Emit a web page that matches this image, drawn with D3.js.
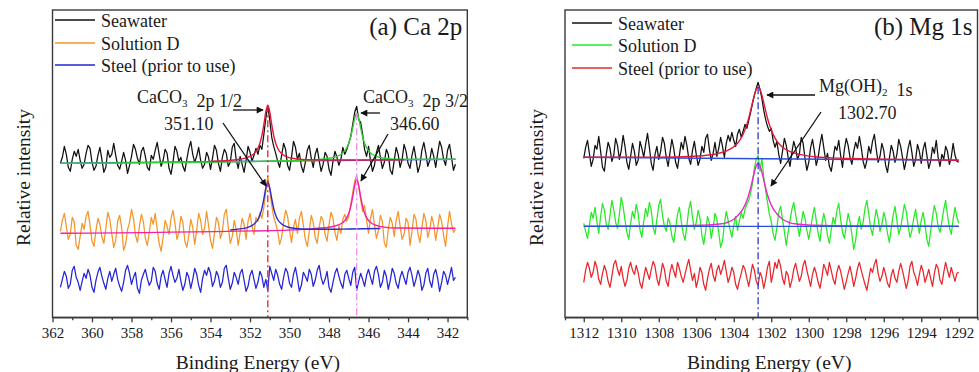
<!DOCTYPE html>
<html>
<head>
<meta charset="utf-8">
<script src="https://cdn.jsdelivr.net/npm/d3@7"></script>
<style>
  html, body { margin: 0; padding: 0; background: #fff; }
  svg { display: block; }
  svg text { font-family: "Liberation Serif", "Times New Roman", serif; }
</style>
</head>
<body>
<svg id="chart" width="979" height="372"></svg>
<script>
// ---------- Ca 2p spectra (binding energy 361.6 -> 341.6 eV, 0.1 eV step) ----------
const caStart = 361.6;
const caStep = 0.1;
const caTicks = [362, 360, 358, 356, 354, 352, 350, 348, 346, 344, 342];
const caMinorTicks = [361, 359, 357, 355, 353, 351, 349, 347, 345, 343, 341];

const caSeawater = [
  154,160,171,163,150,146,158,166,161,168,
  157,149,153,164,172,169,155,147,151,162,
  170,158,145,150,167,160,163,174,162,152,
  148,156,165,157,144,152,161,173,168,159,
  153,166,170,161,150,147,162,158,167,175,
  163,151,157,168,164,149,143,155,171,166,
  156,160,151,146,158,169,176,163,155,161,
  170,157,149,153,165,160,148,159,172,167,
  154,146,160,168,164,151,155,170,174,158,
  149,161,153,145,157,171,165,156,162,169,
  163,172,168,183,199,212,197,180,171,164,
  156,150,162,174,168,152,147,160,176,170,
  158,164,151,145,155,167,172,159,150,163,
  169,157,146,153,165,161,148,142,156,166,
  160,152,158,170,163,168,174,181,193,205,
  211,198,195,183,168,161,171,157,146,152,
  165,172,160,149,155,168,163,147,143,157,
  170,163,150,158,173,166,154,149,162,171,
  159,145,152,167,175,164,151,157,169,161,
  150,164,176,170,158,152,167,173,160,147,
  153
];

const caSolutionD = [
  86,97,104,91,78,83,100,95,72,68,
  81,94,88,101,106,92,76,71,87,99,
  93,80,74,89,105,98,84,70,77,96,
  102,90,67,73,88,95,108,99,82,75,
  91,103,96,79,72,85,100,93,104,88,
  74,66,80,97,91,83,99,107,94,78,
  85,101,95,76,70,82,98,90,73,87,
  104,97,83,89,106,92,77,69,84,100,
  95,79,86,103,108,90,74,81,97,88,
  72,85,99,93,78,96,104,91,83,100,
  96,105,99,110,126,141,127,112,100,94,
  86,73,80,95,107,101,87,75,90,98,
  84,99,106,92,78,71,86,102,95,80,
  74,90,101,97,83,76,93,105,99,85,
  77,92,84,98,103,96,101,113,125,136,
  142,131,118,106,112,97,84,99,108,92,
  79,87,102,96,74,70,88,100,94,81,
  97,106,91,78,83,99,95,72,86,103,
  98,84,75,90,104,97,80,88,101,93,
  77,89,103,96,82,71,91,106,94,85,
  88
];

const caSteel = [
  30,38,46,41,29,33,47,51,40,35,
  27,36,44,39,48,42,30,25,37,45,
  50,41,34,28,39,46,36,43,49,38,
  31,26,35,47,52,44,33,40,45,29,
  24,37,43,48,39,32,36,50,46,34,
  28,41,47,38,30,44,51,42,35,39,
  48,36,27,33,45,40,29,38,49,43,
  32,25,39,47,42,50,44,31,36,46,
  41,30,35,49,52,39,28,34,45,40,
  33,44,48,37,26,31,42,47,38,29,
  35,46,41,30,38,27,51,44,37,48,
  42,33,28,40,49,45,34,30,43,50,
  39,26,32,45,41,36,48,43,31,37,
  47,52,40,33,38,46,30,25,35,44,
  49,41,34,29,43,47,39,32,45,50,
  27,36,44,38,31,42,48,40,33,46,
  51,43,30,35,47,41,28,37,49,44,
  34,29,40,46,39,33,45,50,42,31,
  38,47,41,27,32,44,49,36,30,43,
  48,39,26,35,46,42,33,41,50,37,
  40
];

// fitted components, [binding energy, intensity]
const caSeawaterBackground = [[361.6,154],[341.6,158]];
const caSeawaterFit12 = [
  [354.0,156],[353.1,156.8],[352.5,158],[352.0,161],[351.8,163.5],[351.6,169],
  [351.5,174],[351.4,181.6],[351.3,192.6],[351.2,205.5],[351.1,212],[351.0,205.5],
  [350.9,192.6],[350.8,181.6],[350.7,174],[350.6,169],[350.4,163.5],[350.2,161],
  [349.7,158.5],[349.1,157.5],[348.0,157.3],[346.0,157.3],[344.2,157.6]
];
const caSeawaterFit32 = [
  [361.6,154],[350.0,156.5],[348.6,157.5],[348.0,159],[347.6,161],[347.3,164.3],
  [347.1,169.5],[347.0,174],[346.9,180.5],[346.8,189.5],[346.7,199],[346.6,204],
  [346.5,199],[346.4,189.5],[346.3,180.5],[346.2,174],[346.1,169.5],[345.9,164.3],
  [345.6,161],[345.2,159],[344.6,158],[341.6,158]
];
const caSolutionDFit32 = [
  [361.6,84],[350.0,87.2],[348.6,89],[348.0,90],[347.6,92],[347.3,94.7],
  [347.1,99.6],[347.0,104],[346.9,110.9],[346.8,120.7],[346.7,132],[346.6,138],
  [346.5,132],[346.4,120.7],[346.3,110.9],[346.2,104],[346.1,99.6],[345.9,94.7],
  [345.6,92],[345.2,90.2],[344.6,89.3],[341.6,89]
];
const caSolutionDFit12 = [
  [353.0,87.3],[352.5,88.4],[352.1,90],[351.8,93.1],[351.6,97.8],[351.5,102.1],
  [351.4,108.7],[351.3,118.3],[351.2,129.3],[351.1,135],[351.0,129.3],[350.9,118.3],
  [350.8,108.7],[350.7,102.1],[350.6,97.8],[350.4,93.3],[350.1,90.3],[349.7,88.8],
  [349.1,88],[348.0,88],[347.0,88.3],[345.4,88.8]
];
const caPeaks = [351.10, 346.60];
const caPeakTops = [212, 204];

// ---------- Mg 1s spectra (binding energy 1312.0 -> 1292.0 eV, 0.1 eV step) ----------
const mgStart = 1312.0;
const mgStep = 0.1;
const mgTicks = [1312, 1310, 1308, 1306, 1304, 1302, 1300, 1298, 1296, 1294, 1292];
const mgMinorTicks = [1313, 1311, 1309, 1307, 1305, 1303, 1301, 1299, 1297, 1295, 1293, 1291];

const mgSeawater = [
  159,170,177,164,151,158,172,168,181,166,
  150,146,163,175,169,156,162,179,172,158,
  167,182,171,155,148,161,174,166,152,157,
  176,169,160,173,184,170,154,147,163,171,
  158,166,180,174,160,151,165,178,169,155,
  149,162,175,168,181,172,159,153,167,176,
  163,152,158,171,165,179,183,168,157,164,
  175,161,169,180,171,160,174,182,176,185,
  177,171,183,188,180,186,193,189,197,205,
  214,222,229,235,228,219,207,198,191,186,
  189,177,170,176,163,154,166,179,172,160,
  151,165,176,169,158,163,180,174,159,147,
  155,170,178,166,152,160,173,183,170,157,
  164,151,146,158,171,167,177,162,150,168,
  179,172,160,153,166,175,169,181,170,156,
  149,157,171,164,176,183,168,155,161,174,
  167,152,145,159,172,166,155,163,178,171,
  160,148,157,169,177,165,151,158,173,166,
  154,168,175,162,149,156,170,164,177,160,
  151,163,158,171,166,153,160,174,162,156,
  155
];

const mgSolutionD = [
  94,86,79,92,105,99,110,96,84,101,
  114,107,93,88,102,117,108,95,89,103,
  120,111,97,85,78,94,106,99,113,104,
  87,80,96,109,101,115,107,90,83,98,
  112,118,102,91,86,99,94,81,75,89,
  103,110,96,84,77,92,108,116,100,88,
  95,107,99,82,73,86,101,94,79,90,
  104,98,85,70,76,93,106,97,88,80,
  92,101,87,96,105,99,108,113,117,124,
  134,149,158,162,146,159,140,127,115,103,
  96,84,77,90,105,111,98,86,72,85,
  97,108,115,103,92,81,94,106,99,87,
  78,89,101,110,97,84,76,93,104,95,
  82,74,88,100,93,107,114,98,85,79,
  91,104,96,83,68,77,92,101,88,95,
  109,117,103,90,82,96,108,99,86,93,
  105,98,84,75,89,102,111,97,83,90,
  101,113,106,92,80,87,99,108,95,84,
  97,105,93,78,71,86,100,112,104,91,
  85,96,108,117,102,90,83,98,110,100,
  94
];

const mgSteel = [
  35,47,55,49,40,45,56,50,38,33,
  44,52,46,36,30,41,53,57,48,42,
  51,39,31,37,49,55,47,43,52,45,
  34,29,40,50,44,38,48,56,51,39,
  32,42,54,48,36,31,45,53,46,40,
  55,49,41,35,43,51,58,47,37,44,
  30,38,50,45,33,27,39,48,54,42,
  36,47,52,43,49,57,46,35,41,50,
  45,33,28,37,44,52,48,39,31,42,
  53,47,36,32,45,40,29,38,50,56,
  35,44,55,49,58,51,39,33,46,42,
  30,37,48,54,45,36,41,52,57,47,
  39,31,43,50,44,35,29,40,53,48,
  42,55,47,38,33,45,52,46,37,28,
  36,44,51,42,31,39,49,55,47,40,
  33,27,38,49,45,53,58,44,36,41,
  50,43,34,30,42,48,39,35,46,54,
  47,38,29,37,51,56,45,40,32,43,
  52,46,35,41,48,39,31,44,53,49,
  37,33,45,55,47,40,50,43,36,44,
  45
];

const mgSeawaterBackground = [[1312,160],[1292,157]];
const mgSeawaterFit = [
  [1312,160],[1308.7,160.1],[1306.7,160.6],[1305.7,161.6],[1304.9,163.5],[1304.4,166.3],
  [1304.0,170.5],[1303.7,176.5],[1303.5,183.1],[1303.3,192.9],[1303.2,199.3],[1303.1,206.8],
  [1303.0,214.8],[1302.9,222.3],[1302.8,228],[1302.7,230],[1302.6,227.9],[1302.5,222.2],
  [1302.4,214.6],[1302.3,206.6],[1302.2,199.1],[1302.1,192.7],[1301.9,182.9],[1301.7,176.1],
  [1301.4,170.1],[1301.0,165.7],[1300.5,162.9],[1299.7,160.6],[1298.7,159.4],[1296.7,158.4],
  [1292,157]
];
const mgSolutionDBackground = [[1312,91],[1292,91]];
const mgSolutionDFit = [
  [1312,91],[1306.7,91.5],[1305.7,92],[1304.9,93],[1304.4,94.5],[1304.0,98],
  [1303.7,103.6],[1303.5,108.6],[1303.3,116.8],[1303.2,122.5],[1303.1,129.4],[1303.0,137.3],
  [1302.9,145.3],[1302.8,151.6],[1302.7,154],[1302.6,151.6],[1302.5,145.3],[1302.4,137.3],
  [1302.3,129.4],[1302.2,122.5],[1302.1,116.8],[1301.9,108.6],[1301.7,103.6],[1301.4,98],
  [1301.0,94.5],[1300.5,93],[1299.7,92],[1298.7,91.5],[1292,91]
];
const mgPeaks = [1302.70];
const mgPeakTops = [230];

const seriesNames = ["Seawater", "Solution D", "Steel (prior to use)"];

// ---------- drawing ----------
const FONT = '"Liberation Serif", "Times New Roman", serif';
const svg = d3.select("#chart").attr("font-family", FONT);
const fmtPeak = d3.format(".2f");

svg.append("defs").append("marker")
  .attr("id", "arrowhead")
  .attr("viewBox", "0 0 10 10")
  .attr("refX", 9).attr("refY", 5)
  .attr("markerUnits", "userSpaceOnUse")
  .attr("markerWidth", 9).attr("markerHeight", 7)
  .attr("orient", "auto")
  .append("path").attr("d", "M0,0L10,5L0,10Z").attr("fill", "#111");

function drawPanel(p) {
  const g = svg.append("g").attr("font-family", FONT);
  const x = d3.scaleLinear().domain(p.xDomain).range([p.left, p.right]);
  const y = d3.scaleLinear().domain([0, 307.3]).range([p.bottom, p.top]);

  const energyAt = i => +(p.start - p.step * i).toFixed(2);
  const spectrum = d3.line().x((d, i) => x(energyAt(i))).y(d => y(d));
  const fitLine = d3.line().x(d => x(d[0])).y(d => y(d[1])).curve(d3.curveMonotoneX);

  // measured spectra
  p.spectra.forEach(s => {
    g.append("path").datum(s.values)
      .attr("d", spectrum)
      .attr("fill", "none").attr("stroke", s.color)
      .attr("stroke-width", 1.25).attr("stroke-linejoin", "round");
  });

  // fitted components
  p.fits.forEach(f => {
    g.append("path").datum(f.values)
      .attr("d", fitLine)
      .attr("fill", "none").attr("stroke", f.color)
      .attr("stroke-width", f.width || 1.4);
  });

  // peak position markers
  p.peaks.forEach((e, i) => {
    g.append("line")
      .attr("x1", x(e)).attr("x2", x(e))
      .attr("y1", y(p.peakTops[i])).attr("y2", p.bottom)
      .attr("stroke", p.peakColors[i]).attr("stroke-width", 1.3)
      .attr("stroke-dasharray", "7,3,2,3");
  });

  // frame
  g.append("rect")
    .attr("x", p.left).attr("y", p.top)
    .attr("width", p.right - p.left).attr("height", p.bottom - p.top)
    .attr("fill", "none").attr("stroke", "#3a3a3a").attr("stroke-width", 1.4);

  // bottom axis
  const ax = g.append("g").attr("transform", `translate(0,${p.bottom})`)
    .call(d3.axisBottom(x).tickValues(p.ticks).tickSize(5).tickSizeOuter(0)
      .tickPadding(5.5).tickFormat(d3.format("d")))
    .attr("font-family", FONT).attr("font-size", 15);
  ax.select(".domain").attr("stroke", "#3a3a3a").attr("stroke-width", 1.4);
  ax.selectAll(".tick line").attr("stroke", "#3a3a3a").attr("stroke-width", 1.3);
  ax.selectAll(".tick text").attr("fill", "#1a1a1a");

  const mx = g.append("g").attr("transform", `translate(0,${p.bottom})`)
    .call(d3.axisBottom(x).tickValues(p.minorTicks).tickSize(3).tickSizeOuter(0).tickFormat(""));
  mx.select(".domain").remove();
  mx.selectAll(".tick line").attr("stroke", "#3a3a3a").attr("stroke-width", 1.3);

  // axis titles
  g.append("text")
    .attr("x", (p.left + p.right) / 2 - 2).attr("y", 369)
    .attr("text-anchor", "middle").attr("font-size", 19.5).attr("fill", "#1a1a1a")
    .text("Binding Energy (eV)");
  g.append("text")
    .attr("transform", `translate(${p.yTitleX},177.5) rotate(-90)`)
    .attr("text-anchor", "middle").attr("font-size", 19.5).attr("fill", "#1a1a1a")
    .text("Relative intensity");

  // panel title
  g.append("text")
    .attr("x", p.right - 5).attr("y", 35)
    .attr("text-anchor", "end").attr("font-size", 25).attr("fill", "#1a1a1a")
    .text(p.title);

  // legend
  p.spectra.forEach((s, i) => {
    const ly = p.legendY[i];
    g.append("line")
      .attr("x1", p.legendX).attr("x2", p.legendX + 40)
      .attr("y1", ly).attr("y2", ly)
      .attr("stroke", s.color).attr("stroke-width", 1.5);
    g.append("text")
      .attr("x", p.legendX + 46).attr("y", ly + 6.5)
      .attr("font-size", 18).attr("fill", "#1a1a1a")
      .text(s.name);
  });

  // annotations
  p.notes.forEach(n => {
    const t = g.append("text")
      .attr("x", n.x).attr("y", n.y)
      .attr("font-size", 18).attr("fill", "#1a1a1a")
      .attr("xml:space", "preserve").style("white-space", "pre");
    n.parts.forEach(part => {
      if (part.sub) {
        t.append("tspan").attr("font-size", 11).attr("dy", 4).text(part.text);
        t.append("tspan").attr("dy", -4).text("");
      } else {
        t.append("tspan").text(part.text);
      }
    });
  });
  p.arrows.forEach(a => {
    g.append("line")
      .attr("x1", a[0]).attr("y1", a[1]).attr("x2", a[2]).attr("y2", a[3])
      .attr("stroke", "#111").attr("stroke-width", 1.3)
      .attr("marker-end", "url(#arrowhead)");
  });
}

drawPanel({
  xDomain: [362, 341], left: 52.5, right: 467.3, top: 10, bottom: 317.3,
  start: caStart, step: caStep, ticks: caTicks, minorTicks: caMinorTicks,
  yTitleX: 30, title: "(a) Ca 2p",
  legendX: 55, legendY: [20, 43, 65],
  spectra: [
    { name: seriesNames[0], values: caSeawater, color: "#111111" },
    { name: seriesNames[1], values: caSolutionD, color: "#f5952a" },
    { name: seriesNames[2], values: caSteel, color: "#2424d8" }
  ],
  fits: [
    { values: caSeawaterBackground, color: "#3a55e0" },
    { values: caSeawaterFit32, color: "#2fd22f" },
    { values: caSeawaterFit12, color: "#e3183a" },
    { values: caSolutionDFit32, color: "#f31fa6" },
    { values: caSolutionDFit12, color: "#2a2ad0" }
  ],
  peaks: caPeaks, peakTops: caPeakTops, peakColors: ["#e8202a", "#ee8cee"],
  notes: [
    { x: 137, y: 103, parts: [{ text: "CaCO" }, { text: "3", sub: true }, { text: "  2p 1/2" }] },
    { x: 164, y: 130, parts: [{ text: fmtPeak(caPeaks[0]) }] },
    { x: 363, y: 103, parts: [{ text: "CaCO" }, { text: "3", sub: true }, { text: "  2p 3/2" }] },
    { x: 390, y: 130, parts: [{ text: fmtPeak(caPeaks[1]) }] }
  ],
  arrows: [
    [233, 110, 263, 110],
    [223, 123, 266, 186],
    [380, 113, 361, 113],
    [388, 134, 361, 181]
  ]
});

drawPanel({
  xDomain: [1313, 1291], left: 565, right: 977.5, top: 10, bottom: 317.3,
  start: mgStart, step: mgStep, ticks: mgTicks, minorTicks: mgMinorTicks,
  yTitleX: 543, title: "(b) Mg 1s",
  legendX: 572, legendY: [23, 45, 68],
  spectra: [
    { name: seriesNames[0], values: mgSeawater, color: "#111111" },
    { name: seriesNames[1], values: mgSolutionD, color: "#25ea25" },
    { name: seriesNames[2], values: mgSteel, color: "#e8262b" }
  ],
  fits: [
    { values: mgSeawaterBackground, color: "#2a4ee0" },
    { values: mgSeawaterFit, color: "#e3183a" },
    { values: mgSolutionDFit, color: "#e829c8" },
    { values: mgSolutionDBackground, color: "#2a4ee0", width: 1.2 }
  ],
  peaks: mgPeaks, peakTops: mgPeakTops, peakColors: ["#2a3acc"],
  notes: [
    { x: 819, y: 92, parts: [{ text: "Mg(OH)" }, { text: "2", sub: true }, { text: "  1s" }] },
    { x: 838, y: 119, parts: [{ text: fmtPeak(mgPeaks[0]) }] }
  ],
  arrows: [
    [815, 95, 767, 95],
    [821, 112, 771, 186]
  ]
});
</script>
</body>
</html>
